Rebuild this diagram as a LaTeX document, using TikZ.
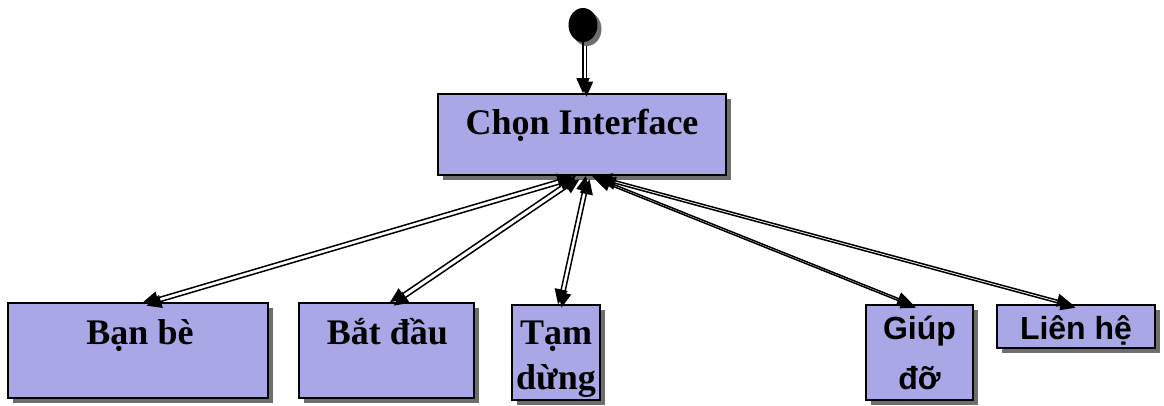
\documentclass[tikz,border=0pt]{standalone}
\usepackage{fontspec}
\setmainfont{Liberation Serif}
\setsansfont{Liberation Sans}
\usetikzlibrary{arrows.meta,shadows,shapes.geometric}
\definecolor{boxfill}{RGB}{170,167,230}
\definecolor{shade}{RGB}{110,110,110}
\tikzset{
  box/.style={draw=black, line width=1.6pt, fill=boxfill, rectangle, inner sep=0pt,
    general shadow={shadow xshift=5pt, shadow yshift=-5pt, fill=shade}},
  lbl/.style={font=\bfseries\fontsize{36}{45}\selectfont, inner sep=0pt, anchor=base, align=center},
  slbl/.style={font=\sffamily\bfseries\fontsize{32}{50}\selectfont, inner sep=0pt, anchor=base, align=center},
  link/.style={line width=1.5pt, black, {Triangle[length=15pt,width=13pt]}-{Triangle[length=15pt,width=13pt]}},
  linkshade/.style={line width=1.5pt, shade, {Triangle[length=15pt,width=13pt]}-{Triangle[length=15pt,width=13pt]}},
  arr/.style={line width=1.5pt, black, -{Triangle[length=15pt,width=13pt]}},
  arrshade/.style={line width=1.5pt, shade, -{Triangle[length=15pt,width=13pt]}}
}
\begin{document}
\begin{tikzpicture}[x=1pt,y=-1pt]
\useasboundingbox (0,0) rectangle (1164,405);
% start state
\node[ellipse, fill=black, minimum width=29pt, minimum height=34pt, inner sep=0pt,
  general shadow={shadow xshift=4pt, shadow yshift=-4pt, fill=shade}] (start) at (583,25) {};
% boxes
\node[box, minimum width=288pt, minimum height=81pt] (ci) at (582,134.5) {};
\node[box, minimum width=260pt, minimum height=95pt] (ban) at (138,350.5) {};
\node[box, minimum width=175pt, minimum height=95pt] (bat) at (386.5,350.5) {};
\node[box, minimum width=88pt, minimum height=95pt] (tam) at (556,352.5) {};
\node[box, minimum width=107pt, minimum height=95pt] (giup) at (919.5,352.5) {};
\node[box, minimum width=158pt, minimum height=43pt] (lien) at (1076,326.5) {};
% labels
\node[lbl] (tci) at ([yshift=-41pt]ci.north) {Chọn Interface};
\node[lbl] (tban) at ([yshift=-42pt,xshift=2pt]ban.north) {Bạn bè};
\node[lbl] (tbat) at ([yshift=-42pt,xshift=1pt]bat.north) {Bắt đầu};
\node[lbl] (ttam) at ([yshift=-85pt]tam.north) {Tạm\\dừng};
\node[slbl] (tgiup) at ([yshift=-85pt]giup.north) {Giúp\\đỡ};
\node[slbl] (tlien) at ([yshift=-35pt]lien.north) {Liên hệ};
% connectors: shadows first
\begin{scope}[transform canvas={xshift=3.5pt,yshift=-3.5pt}]
\draw[arrshade] (start.south) -- ([xshift=1pt]ci.north);
\draw[linkshade] ([xshift=-10pt]ci.south) -- ([xshift=5pt]ban.north);
\draw[linkshade] ([xshift=-6pt]ci.south) -- ([xshift=3.5pt]bat.north);
\draw[linkshade] ([xshift=4pt]ci.south) -- ([xshift=2pt]tam.north);
\draw[linkshade] ([xshift=10pt]ci.south) -- ([xshift=-7pt]giup.north);
\draw[linkshade] ([xshift=15pt]ci.south) -- ([xshift=-4pt]lien.north);
\end{scope}
\draw[arr] (start.south) -- ([xshift=1pt]ci.north);
\draw[link] ([xshift=-10pt]ci.south) -- ([xshift=5pt]ban.north);
\draw[link] ([xshift=-6pt]ci.south) -- ([xshift=3.5pt]bat.north);
\draw[link] ([xshift=4pt]ci.south) -- ([xshift=2pt]tam.north);
\draw[link] ([xshift=10pt]ci.south) -- ([xshift=-7pt]giup.north);
\draw[link] ([xshift=15pt]ci.south) -- ([xshift=-4pt]lien.north);
\end{tikzpicture}
\end{document}
